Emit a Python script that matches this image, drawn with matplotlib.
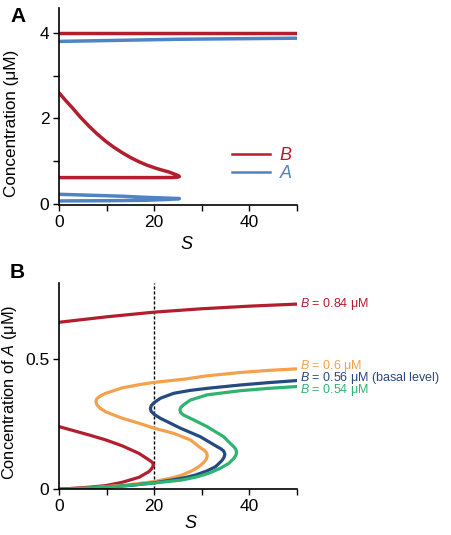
import matplotlib
matplotlib.use("Agg")
import matplotlib.pyplot as plt
from matplotlib.lines import Line2D

plt.rcParams['font.family'] = ['Liberation Sans', 'DejaVu Sans']
plt.rcParams['mathtext.fontset'] = 'custom'
plt.rcParams['mathtext.it'] = 'Liberation Sans:italic'
plt.rcParams['mathtext.rm'] = 'Liberation Sans'

RED = '#B31E2E'
BLUE = '#4F84C4'
ORANGE = '#F4A14C'
NAVY = '#254A80'
GREEN = '#2FB371'

# ---------------- Panel A data ----------------
a_S_B_high = [0, 50]
a_B_high = [4.0, 4.0]
a_S_A_high = [0, 10, 25, 50]
a_A_high = [3.80, 3.82, 3.85, 3.875]
a_S_B_low = [0, 10, 20, 24, 24.9, 25.3, 25.0, 24.3, 23.1, 21.8, 20.3, 18.5, 16.8, 15.0, 13.3,
             11.5, 9.8, 8.0, 6.3, 4.5, 2.8, 1.4, 0]
a_B_low = [0.62, 0.62, 0.62, 0.622, 0.63, 0.645, 0.67, 0.70, 0.75, 0.79, 0.84, 0.91, 0.99, 1.09,
           1.20, 1.33, 1.47, 1.64, 1.82, 2.03, 2.25, 2.42, 2.60]
a_S_A_low = [0, 10, 18, 23, 25.3, 23, 18, 13.3, 6, 0]
a_A_low = [0.075, 0.08, 0.09, 0.11, 0.13, 0.14, 0.16, 0.185, 0.21, 0.23]

# ---------------- Panel B data ----------------
b084_S_up = [0, 10, 20, 30, 40, 50]
b084_A_up = [0.642, 0.663, 0.681, 0.694, 0.704, 0.712]
b084_S_low = [0, 6.3, 9.8, 13.3, 16.8, 18.9, 19.5, 19.85, 19.6, 18.9, 16.8, 13.3, 9.8, 6.3, 0]
b084_A_low = [0.0, 0.008, 0.014, 0.027, 0.046, 0.068, 0.08, 0.093, 0.104, 0.113, 0.138, 0.167,
              0.19, 0.209, 0.241]

b060_S = [0, 5, 9.8, 15, 20.1, 24, 25.9, 28, 29.4, 30.5, 30.95, 31.15, 31.0, 30.6, 29.7, 27.6,
          24.1, 20, 16.8, 13.3, 9.8, 8.6, 7.95, 7.75, 7.95, 8.6, 9.8, 13.3, 17.1, 20, 26.6, 31,
          38.1, 44, 50]
b060_A = [0, 0.004, 0.01, 0.018, 0.03, 0.045, 0.055, 0.072, 0.087, 0.105, 0.116, 0.128, 0.14,
          0.149, 0.16, 0.19, 0.215, 0.235, 0.254, 0.273, 0.298, 0.312, 0.325, 0.337, 0.348,
          0.358, 0.369, 0.39, 0.403, 0.411, 0.424, 0.436, 0.449, 0.457, 0.463]

b056_S = [0, 5, 10, 15, 20, 23.8, 26.5, 28.7, 31, 32.9, 34.2, 34.65, 34.85, 34.6, 34.0, 33.2,
          29.7, 25.5, 21.3, 20.0, 19.35, 19.2, 19.4, 19.9, 21.3, 24.1, 27.5, 31.1, 38.1, 44, 50]
b056_A = [0, 0.003, 0.008, 0.015, 0.025, 0.036, 0.045, 0.055, 0.07, 0.087, 0.11, 0.122, 0.135,
          0.147, 0.156, 0.164, 0.202, 0.235, 0.273, 0.288, 0.3, 0.311, 0.322, 0.332, 0.35,
          0.369, 0.38, 0.388, 0.401, 0.41, 0.418]

b054_S = [0, 6, 13.3, 20, 25.9, 29, 31.5, 33.8, 35.7, 36.8, 37.2, 37.3, 37.1, 36.7, 35.5, 34.6,
          31.1, 27.6, 26.2, 25.55, 25.4, 25.6, 26.2, 27.6, 31.1, 38.1, 44, 50]
b054_A = [0, 0.004, 0.013, 0.024, 0.036, 0.048, 0.062, 0.08, 0.1, 0.12, 0.133, 0.145, 0.155,
          0.164, 0.185, 0.202, 0.241, 0.273, 0.285, 0.295, 0.305, 0.315, 0.325, 0.343, 0.363,
          0.379, 0.388, 0.395]

b_labels = ['0.84 μM', '0.6 μM', '0.56 μM (basal level)', '0.54 μM']
b_label_A = [0.713, 0.473, 0.427, 0.381]
b_colors = [RED, ORANGE, NAVY, GREEN]

W, H = 452, 535
fig = plt.figure(figsize=(W / 100, H / 100), dpi=100)

def style(ax):
    for s in ['top', 'right']:
        ax.spines[s].set_visible(False)
    for s in ['left', 'bottom']:
        ax.spines[s].set_linewidth(1.2)
    ax.tick_params(which='both', direction='out', width=1.0, labelsize=12.5, pad=3)
    ax.tick_params(which='major', length=4)
    ax.tick_params(which='minor', length=4)

kw = dict(solid_capstyle='round', solid_joinstyle='round')

# ---------- Panel A ----------
axA = fig.add_axes([59 / W, 1 - 205 / H, 238 / W, 197 / H])
style(axA)
lwA = 2.5
axA.plot(a_S_B_high, a_B_high, color=RED, lw=lwA, **kw)
axA.plot(a_S_A_high, a_A_high, color=BLUE, lw=lwA, **kw)
axA.plot(a_S_B_low, a_B_low, color=RED, lw=lwA, **kw)
axA.plot(a_S_A_low, a_A_low, color=BLUE, lw=lwA, **kw)
axA.set_xlim(0, 50)
axA.set_ylim(-0.02, 4.58)
axA.set_xticks([0, 20, 40])
axA.set_xticks([10, 30, 50], minor=True)
axA.set_yticks([0, 2, 4])
axA.set_yticks([1, 3], minor=True)
axA.set_ylabel('Concentration (μM)', fontsize=12.3)
axA.yaxis.set_label_coords(-0.17, 0.416)
axA.set_xlabel('$S$', fontsize=13)
axA.xaxis.set_label_coords(0.538, -0.155)
handles = [Line2D([], [], color=RED, lw=1.8), Line2D([], [], color=BLUE, lw=1.8)]
leg = axA.legend(handles, ['$B$', '$A$'], frameon=False, loc='center left',
                 bbox_to_anchor=(0.69, 0.205), fontsize=13, handlelength=2.1,
                 handletextpad=0.5, labelspacing=0.05, borderpad=0)
for t, c in zip(leg.get_texts(), [RED, BLUE]):
    t.set_color(c)
fig.text(10 / W, 1 - 17 / H, 'A', fontsize=15, fontweight='bold', va='center', ha='left')

# ---------- Panel B ----------
axB = fig.add_axes([59 / W, 1 - 489.3 / H, 238 / W, 206.3 / H])
style(axB)
lwB = 2.3
axB.axvline(20, color='black', lw=1.0, ls=(0, (2.2, 1.4)), zorder=1)
axB.plot(b084_S_up, b084_A_up, color=RED, lw=lwB, **kw)
axB.plot(b084_S_low, b084_A_low, color=RED, lw=lwB, **kw)
axB.plot(b060_S, b060_A, color=ORANGE, lw=lwB, **kw)
axB.plot(b056_S, b056_A, color=NAVY, lw=lwB, **kw)
axB.plot(b054_S, b054_A, color=GREEN, lw=lwB, **kw)
axB.set_xlim(0, 50)
axB.set_ylim(0, 0.793)
axB.set_xticks([0, 20, 40])
axB.set_xticks([10, 30, 50], minor=True)
axB.set_yticks([0, 0.5])
axB.set_yticklabels(['0', '0.5'])
axB.set_ylabel('Concentration of $A$ (μM)', fontsize=11.8)
axB.yaxis.set_label_coords(-0.17, 0.47)
axB.set_xlabel('$S$', fontsize=13)
axB.xaxis.set_label_coords(0.555, -0.125)
for lab, yv, c in zip(b_labels, b_label_A, b_colors):
    axB.text(50.6, yv, '$B$ = ' + lab, color=c, fontsize=9.0, va='center', ha='left',
             clip_on=False)
fig.text(10 / W, 1 - 273 / H, 'B', fontsize=15, fontweight='bold', va='center', ha='left')

fig.savefig('out.png', dpi=100)
